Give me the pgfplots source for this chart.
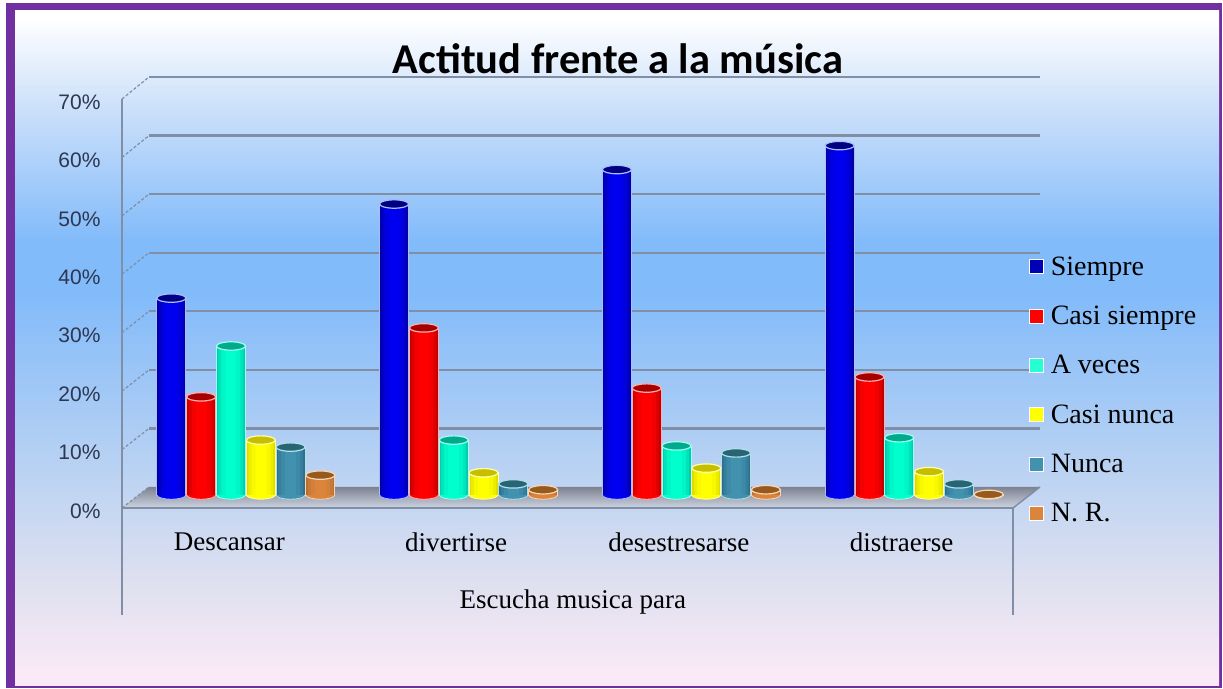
\documentclass[border=0pt]{standalone}
\usepackage{pgfplots}
\usepackage{pgfplotstable}
\usepackage{fontspec}
\pgfplotsset{compat=1.18}
\setmainfont{Liberation Serif}
\newfontfamily\tickfont{Liberation Sans}
\newfontfamily\titlefont{Carlito}
\pgfplotstableread{
x Siempre Casisiempre Aveces Casinunca Nunca NR
0 33.7 16.8 25.5 9.4 8.2 3.4
1 49.8 28.6 9.4 3.8 1.9 0.9
2 55.7 18.3 8.4 4.6 7.2 0.9
3 59.8 20.2 9.8 4.0 1.9 0.1
}\datatable
\definecolor{bgA}{RGB}{255,255,255}
\definecolor{bgB}{RGB}{205,225,250}
\definecolor{bgC}{RGB}{130,187,250}
\definecolor{bgD}{RGB}{190,212,242}
\definecolor{bgE}{RGB}{225,225,240}
\definecolor{bgF}{RGB}{250,233,247}
\definecolor{gridc}{RGB}{128,143,165}
\definecolor{border}{RGB}{112,48,160}
\definecolor{tickc}{RGB}{45,55,80}
\pgfdeclareverticalshading{bgshade}{100bp}{
 color(0bp)=(bgF); color(26bp)=(bgF); color(32bp)=(bgE); color(40bp)=(bgD); color(54bp)=(bgC); color(58bp)=(bgC); color(68bp)=(bgB); color(74.5bp)=(bgA); color(100bp)=(bgA)}
\pgfdeclareplotmark{cylend}{%
 \pgfpathellipse{\pgfpointorigin}{\pgfqpoint{14.5pt}{0pt}}{\pgfqpoint{0pt}{4.2pt}}%
 \pgfusepathqfillstroke}
\pgfdeclareplotmark{cylbase}{%
 \pgfpathmoveto{\pgfqpoint{-14.5pt}{0pt}}%
 \pgfpatharc{180}{360}{14.5pt and 4.2pt}%
 \pgfusepathqfillstroke}
% args: column, shift px, edge, centre, cap, outline
\newcommand{\cyl}[6]{%
 \addplot[forget plot,only marks,mark=cylbase,mark options={draw=#6,fill=#4,line width=0.8pt}]
   table[x expr=\thisrow{x}+#2/222.75,y expr=0]{\datatable};
 \addplot[forget plot,ybar,bar width=29pt,bar shift=0pt,draw=#6,line width=0.8pt,fill=#3]
   table[x expr=\thisrow{x}+#2/222.75,y=#1]{\datatable};
 \addplot[forget plot,ybar,bar width=25pt,bar shift=0pt,draw=none,fill=#3!55!#4]
   table[x expr=\thisrow{x}+#2/222.75,y=#1]{\datatable};
 \addplot[forget plot,ybar,bar width=19pt,bar shift=0pt,draw=none,fill=#3!20!#4]
   table[x expr=\thisrow{x}+#2/222.75,y=#1]{\datatable};
 \addplot[forget plot,ybar,bar width=11pt,bar shift=0pt,draw=none,fill=#4]
   table[x expr=\thisrow{x}+#2/222.75,y=#1]{\datatable};
 \addplot[forget plot,only marks,mark=cylend,mark options={draw=#6,fill=#5,line width=1.2pt}]
   table[x expr=\thisrow{x}+#2/222.75,y=#1]{\datatable};
}
\definecolor{b1}{RGB}{0,0,165}\definecolor{b2}{RGB}{0,0,240}\definecolor{b3}{RGB}{0,0,130}\definecolor{b4}{RGB}{170,190,255}
\definecolor{r1}{RGB}{195,0,0}\definecolor{r2}{RGB}{255,0,0}\definecolor{r3}{RGB}{165,0,0}\definecolor{r4}{RGB}{255,175,175}
\definecolor{t1}{RGB}{0,205,175}\definecolor{t2}{RGB}{0,255,205}\definecolor{t3}{RGB}{0,170,140}\definecolor{t4}{RGB}{160,255,240}
\definecolor{y1}{RGB}{220,220,0}\definecolor{y2}{RGB}{255,255,0}\definecolor{y3}{RGB}{200,190,0}\definecolor{y4}{RGB}{255,255,170}
\definecolor{n1}{RGB}{45,110,140}\definecolor{n2}{RGB}{65,145,175}\definecolor{n3}{RGB}{40,100,115}\definecolor{n4}{RGB}{175,225,235}
\definecolor{o1}{RGB}{185,110,50}\definecolor{o2}{RGB}{218,132,60}\definecolor{o3}{RGB}{150,90,30}\definecolor{o4}{RGB}{250,215,180}
\begin{document}
\begin{tikzpicture}[x=1pt,y=1pt]
\useasboundingbox (0,0) rectangle (1223,688);
\fill[white] (0,0) rectangle (1223,688);
\fill[border] (6,0) rectangle (1222,685);
\shade[shading=bgshade] (15,3) rectangle (1219,677);
% front axis: tick labels and category names
\begin{axis}[name=front,at={(122pt,180pt)},anchor=south west,scale only axis,
 width=891pt,height=409pt,xmin=-0.5,xmax=3.5,ymin=0,ymax=70,clip=false,
 axis line style={draw=none},
 xtick={0,1,2,3},xticklabels={\kern-8ptDescansar,divertirse,desestresarse,distraerse},
 major tick length=0pt,
 xticklabel style={font=\fontsize{27}{30}\selectfont,color=black,yshift=-21pt},
 ytick={0,10,20,30,40,50,60,70},yticklabel={\pgfmathprintnumber{\tick}\%},
 yticklabel style={font=\tickfont\fontsize{21}{24}\selectfont,color=tickc,xshift=-18pt,yshift=-3pt},
 /pgf/number format/assume math mode=true,
 xlabel={Escucha musica para},
 xlabel style={font=\fontsize{27}{30}\selectfont,at={(axis description cs:0.506,-0.229)},anchor=center}]
\addplot[draw=none,forget plot] coordinates {(0,0)};
\end{axis}
% frame decoration
\shade[top color={rgb,255:red,125;green,130;blue,145},bottom color={rgb,255:red,205;green,212;blue,225}] (122,180) -- (149,201) -- (1040,201) -- (1013,180) -- cycle;
\draw[gridc,line width=1.3pt] (122,73) -- (122,589);
\draw[gridc,line width=2pt] (1013,73) -- (1013,180);
\draw[gridc,line width=2.5pt] (122,180) -- (1013,180);
\draw[gridc,line width=1.5pt] (1013,180) -- (1040,201);
% back wall with grid
\begin{axis}[at={(149pt,201pt)},anchor=south west,scale only axis,
 width=891pt,height=410pt,xmin=0,xmax=1,ymin=0,ymax=70,
 axis line style={draw=none},xtick=\empty,
 ytick={10,20,30,40,50,60,70},yticklabels={},major tick length=0pt,
 ymajorgrids,grid style={gridc,line width=2.2pt}]
\addplot[draw=none,forget plot] coordinates {(0,0)};
\end{axis}
% side-wall ticks, in the front axis scale
\foreach \v in {0,...,7}{
 \draw[gridc,line width=1.2pt,densely dashed] (122,180+\v*58.43) -- (149,201+\v*58.57);
}
% bars at mid-depth
\begin{axis}[at={(135pt,193pt)},anchor=south west,scale only axis,
 width=891pt,height=409pt,xmin=-0.5,xmax=3.5,ymin=0,ymax=70,clip=false,
 axis line style={draw=none},xtick=\empty,ytick=\empty,
 legend style={draw=none,fill=none,
   at={(axis cs:3.5,40)},anchor=north west,xshift=0pt,yshift=9pt,
   font=\fontsize{28}{31}\selectfont,row sep=25.4pt,/tikz/column 1/.style={column sep=5pt}},
 legend cell align=left]
\cyl{Siempre}{-75}{b1}{b2}{b3}{b4}
\cyl{Casisiempre}{-45.2}{r1}{r2}{r3}{r4}
\cyl{Aveces}{-15.4}{t1}{t2}{t3}{t4}
\cyl{Casinunca}{14.4}{y1}{y2}{y3}{y4}
\cyl{Nunca}{44.2}{n1}{n2}{n3}{n4}
\cyl{NR}{74}{o1}{o2}{o3}{o4}
\pgfplotsset{legend image code/.code={\fill[#1,draw=white,line width=0.6pt] (0pt,-7pt) rectangle (14pt,7pt);}}
\addlegendimage{fill=b1!80!b2}\addlegendentry{Siempre}
\addlegendimage{fill=r2}\addlegendentry{Casi siempre}
\addlegendimage{fill=t2!85!white}\addlegendentry{A veces}
\addlegendimage{fill=y2}\addlegendentry{Casi nunca}
\addlegendimage{fill=n2}\addlegendentry{Nunca}
\addlegendimage{fill=o2}\addlegendentry{N. R.}
\end{axis}
\node[font=\titlefont\bfseries\fontsize{42.5}{46}\selectfont,anchor=center] at (618,629.5) {Actitud frente a la música};
\end{tikzpicture}
\end{document}
